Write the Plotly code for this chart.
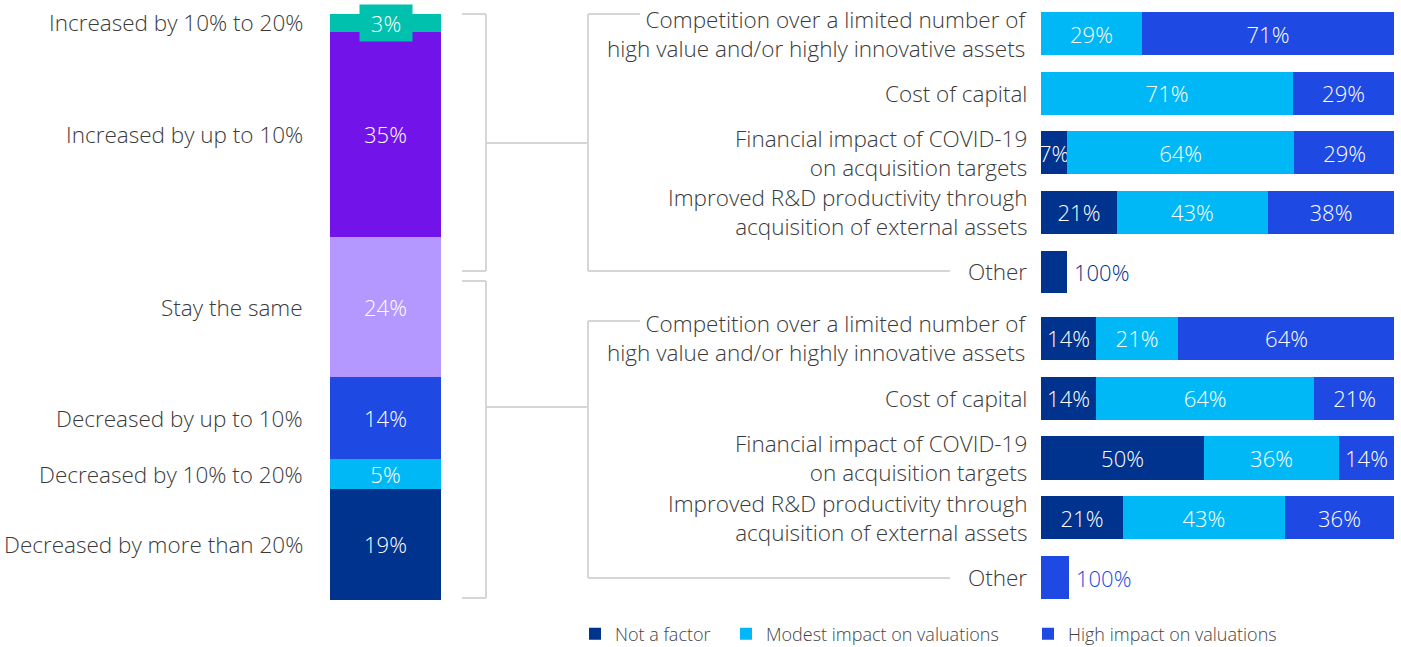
import plotly.graph_objects as go
import numpy as np

W, H = 1401, 647

# ---- left stacked bar (bottom -> top) ----
left_labels = ["Decreased by more than 20%", "Decreased by 10% to 20%", "Decreased by up to 10%",
               "Stay the same", "Increased by up to 10%", "Increased by 10% to 20%"]
left_values = [19, 5, 14, 24, 35, 3]
left_colors = ["#00338D", "#00B8F5", "#1E49E2", "#B497FF", "#7213EA", "#00C0AE"]

# ---- right stacked bars ----
factors = ["Competition over a limited number of<br>high value and/or highly innovative assets",
           "Cost of capital",
           "Financial impact of COVID-19<br>on acquisition targets",
           "Improved R&D productivity through<br>acquisition of external assets",
           "Other"]
series_names = ["Not a factor", "Modest impact on valuations", "High impact on valuations"]
series_colors = ["#00338D", "#00B8F5", "#1E49E2"]

# bar lengths (share of full bar), and the printed labels
top_not = [0, 0, 7.4, 21.5, 7.4]
top_modest = [28.6, 71.4, 64.3, 42.8, 0]
top_high = [71.4, 28.6, 28.6, 35.7, 0]
top_not_lbl = ["", "", "7%", "21%", ""]
top_modest_lbl = ["29%", "71%", "64%", "43%", ""]
top_high_lbl = ["71%", "29%", "29%", "38%", ""]

bot_not = [15.6, 15.6, 46.2, 23.2, 0]
bot_modest = [23.2, 61.8, 38.2, 45.9, 0]
bot_high = [61.5, 22.9, 15.6, 30.9, 7.9]
bot_not_lbl = ["14%", "14%", "50%", "21%", ""]
bot_modest_lbl = ["21%", "64%", "36%", "43%", ""]
bot_high_lbl = ["64%", "21%", "14%", "36%", ""]

other_label = "100%"

FONT = "Open Sans, Roboto, Arial, sans-serif"
TXT = "#3a3a3a"
FS_LBL = 22.5   # category labels
FS_VAL = 22     # numbers on bars


def px(x):
    return x / W


def py(y):
    return 1 - y / H


fig = go.Figure()

# left bar
for lab, val, col in zip(left_labels, left_values, left_colors):
    fig.add_trace(go.Bar(
        x=["all"], y=[val], width=1, marker_color=col, marker_line_width=0,
        text=["" if val < 4 else f"{val}%"], textposition="inside", insidetextanchor="middle",
        textangle=0, constraintext="none",
        textfont=dict(color="white", size=FS_VAL, family=FONT, weight=300),
        showlegend=False, hoverinfo="skip", xaxis="x", yaxis="y",
    ))

groups = [
    ("x2", "y2", [top_not, top_modest, top_high], [top_not_lbl, top_modest_lbl, top_high_lbl]),
    ("x3", "y3", [bot_not, bot_modest, bot_high], [bot_not_lbl, bot_modest_lbl, bot_high_lbl]),
]
legend_ids = ["legend", "legend2", "legend3"]
for gi, (xa, ya, vals, lbls) in enumerate(groups):
    for si in range(3):
        fig.add_trace(go.Bar(
            y=factors, x=vals[si], orientation="h", width=0.72,
            name=series_names[si], marker_color=series_colors[si], marker_line_width=0,
            text=lbls[si], textposition="inside", insidetextanchor="middle",
            textangle=0, constraintext="none",
            textfont=dict(color="white", size=FS_VAL, family=FONT, weight=300),
            showlegend=(gi == 0), legend=legend_ids[si],
            xaxis=xa, yaxis=ya, hoverinfo="skip",
        ))

annotations = []

# left category labels at the middle of each segment
cum = np.cumsum(left_values)
mids = cum - np.array(left_values) / 2
for lab, m in zip(left_labels, mids):
    annotations.append(dict(
        x=px(305), xref="paper", xanchor="right", y=m, yref="y", yanchor="middle",
        text=lab, showarrow=False, font=dict(size=FS_LBL, color=TXT, family=FONT, weight=300),
    ))

# small top segment label with its own box
annotations.append(dict(
    x="all", xref="x", y=mids[-1], yref="y", text=f"{left_values[-1]}%", showarrow=False,
    bgcolor=left_colors[-1], borderpad=3, width=46,
    font=dict(size=FS_VAL, color="white", family=FONT, weight=300),
))

# right category labels
for xa, ya in [("x2", "y2"), ("x3", "y3")]:
    for f in factors:
        annotations.append(dict(
            x=0, xref=xa, xanchor="right", xshift=-12, y=f, yref=ya, yanchor="middle",
            text=f, align="right", showarrow=False,
            font=dict(size=FS_LBL, color=TXT, family=FONT, weight=300),
        ))

# "Other" bars carry a label outside
annotations.append(dict(
    x=top_not[-1], xref="x2", xanchor="left", xshift=5, y=factors[-1], yref="y2",
    text=other_label, showarrow=False, font=dict(size=FS_VAL, color=series_colors[0], family=FONT, weight=300),
))
annotations.append(dict(
    x=bot_high[-1], xref="x3", xanchor="left", xshift=5, y=factors[-1], yref="y3",
    text=other_label, showarrow=False, font=dict(size=FS_VAL, color=series_colors[2], family=FONT, weight=300),
))

# bracket lines (decoration)
segs = [
    (462, 14, 486, 14), (486, 14, 486, 271), (462, 271, 486, 271), (486, 143, 588, 143),
    (588, 14, 640, 14), (588, 14, 588, 271), (588, 271, 950, 271),
    (462, 281, 486, 281), (486, 281, 486, 598), (462, 598, 486, 598), (486, 407, 588, 407),
    (588, 321, 640, 321), (588, 321, 588, 578), (588, 578, 950, 578),
]
shapes = [dict(type="line", xref="paper", yref="paper", x0=px(a), y0=py(b), x1=px(c), y1=py(d),
               line=dict(color="#d6d6d6", width=2)) for a, b, c, d in segs]

hidden = dict(showgrid=False, zeroline=False, showticklabels=False, showline=False, ticks="")

# one legend per series so each entry sits where the reference has it
legend_x = [575, 726, 1028]
legend_style = dict(orientation="h", xanchor="left", y=py(634), yanchor="middle",
                    font=dict(size=18, color="#444", family=FONT, weight=300),
                    bgcolor="rgba(0,0,0,0)")

fig.update_layout(
    width=W, height=H,
    margin=dict(l=0, r=0, t=0, b=0, autoexpand=False),
    paper_bgcolor="white", plot_bgcolor="white",
    barmode="stack",
    font=dict(family=FONT, color=TXT),
    xaxis=dict(domain=[px(330), px(441)], range=[-0.5, 0.5], **hidden),
    yaxis=dict(domain=[py(600), py(14)], range=[0, 100], **hidden),
    xaxis2=dict(domain=[px(1041), px(1394)], range=[0, 100], anchor="y2", **hidden),
    yaxis2=dict(domain=[py(301.8), py(3.7)], range=[4.5, -0.5], anchor="x2",
                categoryorder="array", categoryarray=factors, **hidden),
    xaxis3=dict(domain=[px(1041), px(1394)], range=[0, 100], anchor="y3", **hidden),
    yaxis3=dict(domain=[py(607.4), py(308.6)], range=[4.5, -0.5], anchor="x3",
                categoryorder="array", categoryarray=factors, **hidden),
    annotations=annotations,
    shapes=shapes,
    showlegend=True,
    legend=dict(x=px(legend_x[0]), **legend_style),
    legend2=dict(x=px(legend_x[1]), **legend_style),
    legend3=dict(x=px(legend_x[2]), **legend_style),
)

# drop the default page margin so the figure sits at the window's top-left corner
fig.write_html("out.html", config={"displayModeBar": False},
               post_script="document.body.style.margin='0';")
